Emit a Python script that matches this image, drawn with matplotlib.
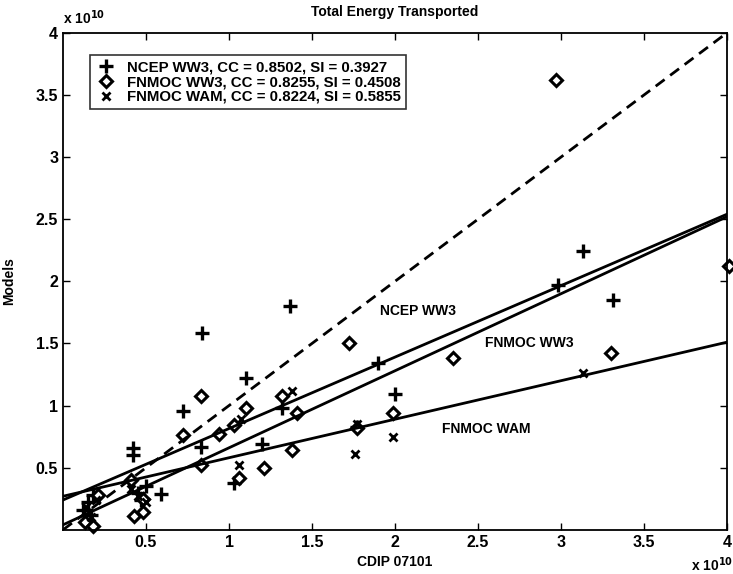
import numpy as np
import matplotlib
matplotlib.use("Agg")
import matplotlib.pyplot as plt

plt.rcParams['font.family'] = ['Liberation Sans', 'DejaVu Sans']
plt.rcParams['font.weight'] = 'bold'

# values in units of 1e10
ncep_x = [0.12, 0.15, 0.17, 0.42, 0.42, 0.45, 0.50, 0.59, 0.72, 0.84, 0.83, 1.03, 1.10, 1.20,
          1.32, 1.37, 1.77, 1.90, 2.00, 2.98, 3.13, 3.31, 0.18, 0.47]
ncep_y = [0.16, 0.22, 0.12, 0.66, 0.60, 0.30, 0.35, 0.29, 0.96, 1.58, 0.67, 0.38, 1.22, 0.69,
          0.98, 1.80, 0.83, 1.34, 1.09, 1.97, 2.24, 1.85, 0.28, 0.24]

fw3_x = [0.13, 0.18, 0.21, 0.41, 0.43, 0.48, 0.48, 0.72, 0.83, 0.83, 0.94, 1.03, 1.06, 1.10,
         1.21, 1.32, 1.38, 1.41, 1.72, 1.77, 1.99, 2.35, 2.97, 3.30, 4.01]
fw3_y = [0.06, 0.03, 0.28, 0.40, 0.11, 0.14, 0.25, 0.76, 1.08, 0.52, 0.77, 0.84, 0.42, 0.98,
         0.50, 1.08, 0.64, 0.94, 1.50, 0.82, 0.94, 1.38, 3.62, 1.42, 2.12]

wam_x = [0.14, 0.17, 0.20, 0.41, 0.45, 0.50, 1.06, 1.07, 1.38, 1.76, 1.77, 1.99, 3.13]
wam_y = [0.18, 0.10, 0.24, 0.33, 0.27, 0.22, 0.52, 0.89, 1.12, 0.61, 0.85, 0.75, 1.26]

# fitted lines (intercept, slope)
ncep_fit = (0.24, 0.575)
fw3_fit = (0.04, 0.62)
wam_fit = (0.27, 0.31)

labels = ['NCEP WW3, CC = 0.8502, SI = 0.3927',
          'FNMOC WW3, CC = 0.8255, SI = 0.4508',
          'FNMOC WAM, CC = 0.8224, SI = 0.5855']

fig = plt.figure(figsize=(7.33, 5.74), dpi=100)
ax = fig.add_axes([0.086, 0.077, 0.906, 0.866])

ax.plot(ncep_x, ncep_y, 'k+', ms=10, mew=2.4, ls='none', label=labels[0])
ax.plot(fw3_x, fw3_y, 'kD', ms=6.5, mew=2.2, mfc='white', ls='none', label=labels[1], clip_on=False)
ax.plot(wam_x, wam_y, 'kx', ms=6, mew=2, ls='none', label=labels[2])

xx = np.array([0, 4])
ax.plot(xx, xx, 'k--', lw=2, dashes=(4, 2.5))
for b, m in [ncep_fit, fw3_fit, wam_fit]:
    ax.plot(xx, b + m * xx, 'k-', lw=2)

ax.text(2.14, 1.76, 'NCEP WW3', ha='center', va='center', fontsize=10, fontweight='bold')
ax.text(2.81, 1.50, 'FNMOC WW3', ha='center', va='center', fontsize=10, fontweight='bold')
ax.text(2.55, 0.81, 'FNMOC WAM', ha='center', va='center', fontsize=10, fontweight='bold')

ax.set_xlim(0, 4)
ax.set_ylim(0, 4)
ax.set_xticks([0.5, 1, 1.5, 2, 2.5, 3, 3.5, 4])
ax.set_xticklabels(['0.5', '1', '1.5', '2', '2.5', '3', '3.5', '4'])
ax.set_yticks([0.5, 1, 1.5, 2, 2.5, 3, 3.5, 4])
ax.set_yticklabels(['0.5', '1', '1.5', '2', '2.5', '3', '3.5', '4'])
ax.tick_params(direction='in', top=True, right=True, length=5, labelsize=11.5, width=1)
for lab in ax.get_xticklabels() + ax.get_yticklabels():
    lab.set_fontweight('bold')
for s in ax.spines.values():
    s.set_linewidth(1.3)

ax.set_title('Total Energy Transported', fontsize=10, fontweight='bold', pad=12)
ax.set_xlabel('CDIP 07101', fontsize=10, fontweight='bold', labelpad=4)
ax.set_ylabel('Models', fontsize=10, fontweight='bold', labelpad=14)

ax.text(0.0, 1.012, r'x 10$^{\mathbf{10}}$', transform=ax.transAxes, fontsize=10,
        fontweight='bold', ha='left', va='bottom')
ax.text(0.946, -0.07, r'x 10$^{\mathbf{10}}$', transform=ax.transAxes, fontsize=10,
        fontweight='bold', ha='left', va='center')

leg = ax.legend(loc='upper left', bbox_to_anchor=(0.03, 0.97),
                prop={'weight': 'bold', 'size': 10.8}, frameon=True, fancybox=False,
                edgecolor='black', handletextpad=0.7, borderpad=0.35, labelspacing=0.05,
                handlelength=1.4)
leg.get_frame().set_linewidth(1.2)

fig.savefig('out.png', dpi=100)
